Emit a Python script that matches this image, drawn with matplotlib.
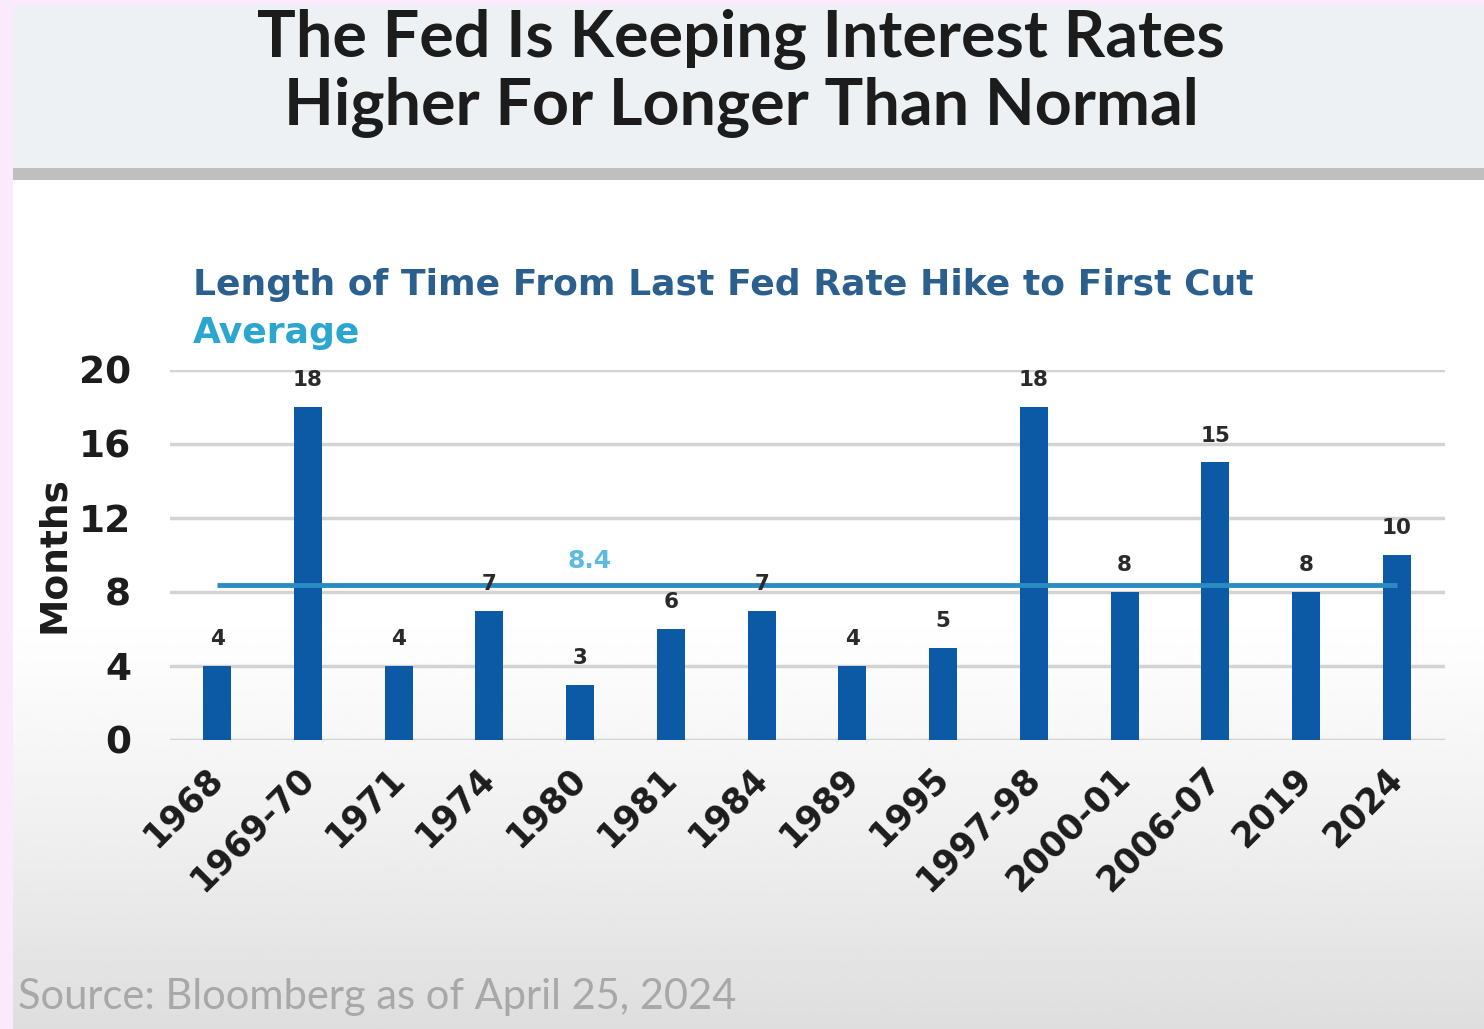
import numpy as np
import matplotlib
matplotlib.use('Agg')
from matplotlib import pyplot as plt
from matplotlib.transforms import ScaledTranslation

# Months between the last Fed hike and the first cut, per cycle
cycles = ['1968', '1969-70', '1971', '1974', '1980', '1981', '1984',
          '1989', '1995', '1997-98', '2000-01', '2006-07', '2019', '2024']
months = [4, 18, 4, 7, 3, 6, 7, 4, 5, 18, 8, 15, 8, 10]
average = 8.4
y_ticks = [0, 4, 8, 12, 16, 20]

title_lines = ['The Fed Is Keeping Interest Rates',
               'Higher For Longer Than Normal']
subtitle = 'Length of Time From Last Fed Rate Hike to First Cut'
source = 'Source: Bloomberg as of April 25, 2024'

W, H = 1484, 1029
plt.rcParams['font.family'] = ['Lato', 'DejaVu Sans']
WIDE = ['DejaVu Sans']

fig = plt.figure(figsize=(W / 100, H / 100), dpi=100)
fig.patch.set_facecolor('#fbeafb')


def px_axes(x0, y0, x1, y1, **kw):
    # axes from pixel box (top-left origin)
    return fig.add_axes([x0 / W, 1 - y1 / H, (x1 - x0) / W, (y1 - y0) / H], **kw)


def flat(a, color):
    a.set_facecolor(color)
    a.set_xticks([]); a.set_yticks([])
    for s in a.spines.values():
        s.set_visible(False)


# title panel and grey separator band
flat(px_axes(13, 5, W, 168), '#eef1f3')
flat(px_axes(13, 168, W, 180), '#bfbfbf')

# chart panel, white fading to grey toward the bottom
bg = px_axes(13, 180, W, H)
yy = np.linspace(0, 1, 400)
shade = np.clip((yy - 0.5) / 0.5, 0, 1) ** 1.2
col = 1.0 - 0.13 * shade
grad = np.repeat(col[:, None], 2, axis=1)
bg.imshow(grad, cmap='gray', vmin=0, vmax=1, aspect='auto',
          extent=[0, 1, 1, 0], interpolation='bilinear')
bg.set_xlim(0, 1); bg.set_ylim(1, 0)
bg.axis('off')

for yline, line in zip([40, 107], title_lines):
    fig.text(741 / W, 1 - yline / H, line, ha='center', va='center',
             fontsize=46.5, fontweight='bold', color='#1c1c1c')

fig.text(193 / W, 1 - 285 / H, subtitle, ha='left', va='center',
         family=WIDE, fontsize=26, fontweight='bold', color='#2b5f8e')
fig.text(193 / W, 1 - 333 / H, 'Average', ha='left', va='center',
         family=WIDE, fontsize=26, fontweight='bold', color='#2aa6cf')

fig.text(18 / W, 1 - 997 / H, source, ha='left', va='center',
         fontsize=30, color='#a8a8a8')

# main bar chart
ax = px_axes(170, 370, 1445, 740)
ax.set_facecolor('none')
x = np.arange(len(cycles))
ax.bar(x, months, width=0.31, color='#0c5aa6', zorder=3)

ax.plot([x[0], x[-1]], [average, average], color='#2b8cc3', lw=3.5,
        zorder=4, solid_capstyle='butt')
ax.text(4.1, average + 1.3, f'{average}', ha='center', va='center',
        family=WIDE, fontsize=18, fontweight='bold', color='#5bbbe0', zorder=5)

for xi, v in zip(x, months):
    ax.annotate(str(v), (xi, v), xytext=(0, 12), textcoords='offset points',
                ha='center', va='bottom', family=WIDE, fontsize=15.5,
                fontweight='bold', color='#2a2a2a', zorder=5)

ax.set_xlim(-0.52, len(cycles) - 1 + 0.53)
ax.set_ylim(0, 20)
ax.set_yticks(y_ticks)
ax.set_yticklabels([str(t) for t in y_ticks], family=WIDE, fontsize=27,
                   fontweight='bold', color='#1c1c1c')
ax.yaxis.grid(True, color='#d3d3d3', lw=2.5, zorder=0)
ax.set_axisbelow(True)
ax.tick_params(axis='y', length=0, pad=28)
ax.set_xticks(x)
ax.set_xticklabels(cycles, rotation=45, ha='right', va='top',
                   rotation_mode='anchor', family=WIDE, fontsize=25,
                   fontweight='bold', color='#1c1c1c')
ax.tick_params(axis='x', length=0, pad=15)
# nudge the slanted year labels so they end under the bar centres
shift = ScaledTranslation(-12 / 100, 0, fig.dpi_scale_trans)
for lbl in ax.get_xticklabels():
    lbl.set_transform(lbl.get_transform() + shift)
for s in ax.spines.values():
    s.set_visible(False)

ax.set_ylabel('Months', family=WIDE, fontsize=27, fontweight='bold',
              color='#1c1c1c', labelpad=5)

fig.savefig('out.png', dpi=100, facecolor=fig.get_facecolor())
